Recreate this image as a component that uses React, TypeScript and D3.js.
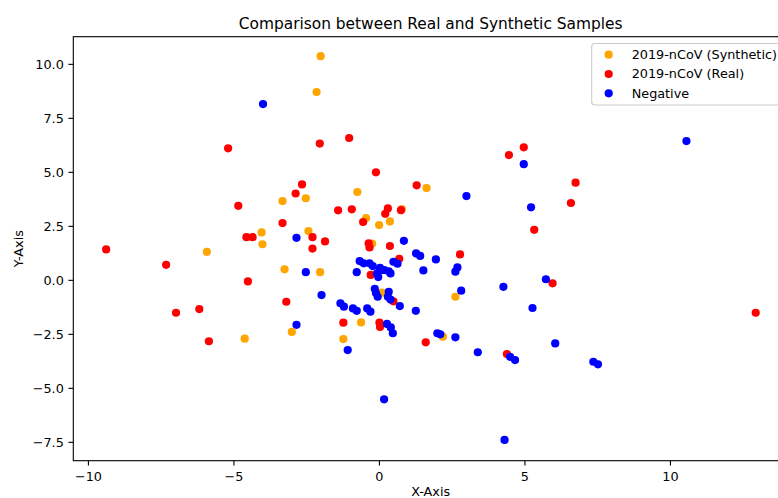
import React from "react";
import * as d3 from "d3";

const synthetic: [number, number][] = [
  [-2.02, 10.38], [-2.16, 8.72], [-3.33, 3.67], [-2.53, 3.8], [-4.05, 2.22],
  [-4.02, 1.67], [-2.44, 2.28], [-5.93, 1.32], [-3.26, 0.51], [-2.04, 0.38],
  [-4.63, -2.7], [-3.01, -2.39], [-0.76, 4.09], [1.62, 4.27], [0.77, 3.3],
  [-0.46, 2.88], [-0.01, 2.56], [0.36, 2.73], [-0.25, 1.7], [-0.63, -1.95],
  [-1.24, -2.72], [2.18, -2.61], [2.61, -0.76], [0.08, -0.57],
];

const real: [number, number][] = [
  [-5.2, 6.11], [-4.85, 3.45], [-4.57, 2.0], [-4.36, 2.0], [-3.33, 2.65],
  [-2.88, 4.02], [-2.66, 4.44], [-2.3, 2.0], [-2.3, 1.47], [-2.05, 6.33],
  [-9.39, 1.43], [-7.33, 0.72], [-6.99, -1.5], [-6.19, -1.33], [-5.86, -2.82],
  [-4.52, -0.05], [-3.2, -0.99], [-1.04, 6.59], [-0.12, 5.0], [-1.42, 3.24],
  [-0.95, 3.29], [0.29, 3.33], [0.2, 3.08], [0.74, 3.25], [-0.56, 2.7],
  [1.28, 4.4], [4.45, 5.8], [4.96, 6.16], [5.32, 2.34], [-1.87, 1.8],
  [-0.37, 1.71], [-0.34, 1.52], [0.36, 1.59], [6.74, 4.52], [6.58, 3.58],
  [0.68, 1.0], [2.77, 1.2], [-0.3, 0.25], [0.48, -0.97], [-1.24, -1.96],
  [0.0, -1.96], [0.02, -2.16], [1.59, -2.87], [4.38, -3.41], [5.95, -0.14],
  [12.93, -1.5],
];

const negative: [number, number][] = [
  [-4.0, 8.16], [-2.85, 1.97], [-2.53, 0.38], [-1.99, -0.68], [-2.85, -2.06],
  [4.96, 5.38], [2.99, 3.9], [5.21, 3.38], [0.84, 1.83], [10.55, 6.45],
  [-0.78, 0.38], [-0.68, 0.89], [-0.54, 0.79], [-0.34, 0.79], [-0.23, 0.66],
  [0.02, 0.58], [0.08, 0.48], [-0.08, 0.32], [-0.04, 0.15], [0.17, 0.48],
  [0.32, 0.42], [0.38, 0.32], [0.48, 0.86], [0.62, 0.77], [1.26, 1.25],
  [1.4, 1.13], [1.51, 0.46], [1.94, 0.97], [2.61, 0.4], [2.68, 0.6],
  [2.81, -0.48], [-0.16, -0.39], [-0.12, -0.59], [-0.06, -0.76], [0.32, -0.53],
  [0.29, -0.76], [0.38, -0.89], [0.7, -1.19], [1.25, -1.41], [-1.34, -1.06],
  [-1.22, -1.22], [-0.91, -1.3], [-0.78, -1.41], [-0.42, -1.3], [-0.31, -1.45],
  [0.26, -2.02], [0.39, -2.18], [0.46, -2.45], [1.99, -2.45], [2.09, -2.5],
  [2.61, -2.64], [3.38, -3.33], [-1.09, -3.23], [4.26, -0.3], [5.26, -1.28],
  [4.49, -3.54], [4.66, -3.69], [5.72, 0.05], [6.04, -2.92], [7.35, -3.77],
  [7.51, -3.89], [0.16, -5.51], [4.3, -7.39],
];

const seriesNames = ["2019-nCoV (Synthetic)", "2019-nCoV (Real)", "Negative"];
const seriesColors = ["orange", "red", "blue"];
const xTicks = [-10, -5, 0, 5, 10];
const yTicks = [-7.5, -5, -2.5, 0, 2.5, 5, 7.5, 10];

const W = 778;
const H = 498;
const left = 73.3;
const right = 788;
const top = 36.7;
const bottom = 460.7;
const font = "DejaVu Sans, sans-serif";
const fs = 12.8;

export default function App() {
  const x = d3.scaleLinear().domain([-10.52, 14.04]).range([left, right]);
  const y = d3.scaleLinear().domain([-8.35, 11.28]).range([bottom, top]);
  const series = [synthetic, real, negative];
  const fmtX = (v: number) => String(v).replace("-", "\u2212");
  const fmtY = (v: number) => v.toFixed(1).replace("-", "\u2212");
  const cx = (left + right) / 2;
  const cy = (top + bottom) / 2;
  return (
    <svg width={W} height={H} style={{ position: "absolute", left: 0, top: 0 }} fontFamily={font}>
      <rect x={0} y={0} width={W} height={H} fill="#fff" />
      <defs>
        <clipPath id="plot">
          <rect x={left} y={top} width={right - left} height={bottom - top} />
        </clipPath>
      </defs>
      <g clipPath="url(#plot)">
        {series.map((pts, si) => (
          <g key={si} fill={seriesColors[si]}>
            {pts.map((p, i) => (
              <circle key={i} cx={x(p[0])} cy={y(p[1])} r={4.1} />
            ))}
          </g>
        ))}
      </g>
      <rect x={left} y={top} width={right - left} height={bottom - top} fill="none" stroke="#000" strokeWidth={1.1} />
      {xTicks.map((t) => (
        <g key={t}>
          <line x1={x(t)} x2={x(t)} y1={bottom} y2={bottom + 4.9} stroke="#000" strokeWidth={1.1} />
          <text x={x(t)} y={480.5} fontSize={fs} textAnchor="middle" fill="#000">{fmtX(t)}</text>
        </g>
      ))}
      {yTicks.map((t) => (
        <g key={t}>
          <line x1={left - 4.9} x2={left} y1={y(t)} y2={y(t)} stroke="#000" strokeWidth={1.1} />
          <text x={left - 9.5} y={y(t)} dy="0.35em" fontSize={fs} textAnchor="end" fill="#000">{fmtY(t)}</text>
        </g>
      ))}
      <text x={cx} y={28.5} fontSize={15.4} textAnchor="middle" fill="#000">Comparison between Real and Synthetic Samples</text>
      <text x={cx} y={495.5} fontSize={fs} textAnchor="middle" fill="#000">X-Axis</text>
      <text transform={`translate(23,${cy}) rotate(-90)`} fontSize={fs} textAnchor="middle" fill="#000">Y-Axis</text>
      <g>
        <rect x={591.7} y={43.5} width={190} height={61.5} rx={3} fill="#fff" fillOpacity={0.8} stroke="#cccccc" strokeWidth={1.1} />
        {seriesNames.map((n, i) => (
          <g key={n}>
            <circle cx={608.7} cy={54.7 + i * 19.3} r={4.1} fill={seriesColors[i]} />
            <text x={631.7} y={54.7 + i * 19.3} dy="0.35em" fontSize={fs} fill="#000">{n}</text>
          </g>
        ))}
      </g>
    </svg>
  );
}
